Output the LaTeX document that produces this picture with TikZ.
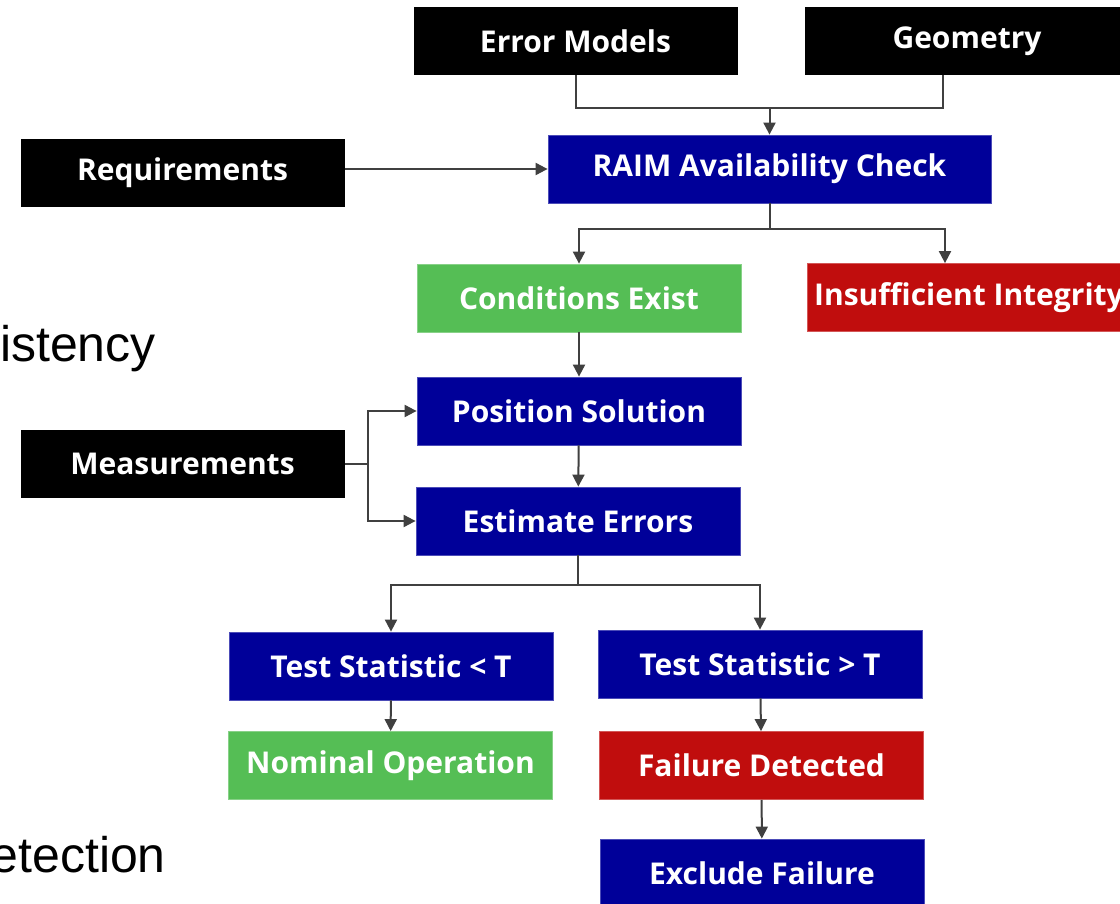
\documentclass[tikz,border=0pt]{standalone}
\usepackage{fontspec}
\setmainfont{Open Sans}
\setsansfont{Liberation Sans}
\usetikzlibrary{arrows.meta}
\definecolor{navy}{HTML}{000099}
\definecolor{okgreen}{HTML}{55BE55}
\definecolor{badred}{HTML}{C00D0D}
\definecolor{wirec}{HTML}{404040}
\begin{document}
\begin{tikzpicture}[x=1pt,y=-1pt,
 box/.style={minimum width=324pt,minimum height=68pt,inner sep=0pt,text=white,font=\bfseries\fontsize{30}{36}\selectfont},
 blackbox/.style={box,fill=black},
 bluebox/.style={box,fill=navy,draw=navy!70!white,line width=0.8pt},
 greenbox/.style={box,fill=okgreen,draw=okgreen!70!white,line width=0.8pt},
 redbox/.style={box,fill=badred,draw=badred!70!white,line width=0.8pt},
 wire/.style={draw=wirec,line width=2pt},
 arr/.style={wire,-{Triangle[length=12pt,width=12pt]}},
 big/.style={font=\sffamily\fontsize{50}{58}\selectfont,anchor=base east,inner sep=0pt}]
\useasboundingbox[fill=white] (0,0) rectangle (1120,904);
\node[blackbox] (em) at (575.5,41) {Error Models};
\node[blackbox] (geo) at (967,41) {Geometry};
\node[bluebox, minimum width=443pt] (raim) at (769.5,169) {RAIM Availability Check};
\node[blackbox] (req) at (182.5,173) {Requirements};
\node[greenbox] (cond) at (579,298) {Conditions Exist};
\node[redbox] (insuf) at (969,297.5) {Insufficient Integrity};
\node[bluebox] (pos) at (579,411) {Position Solution};
\node[blackbox] (meas) at (182.5,464) {Measurements};
\node[bluebox] (est) at (578,521) {Estimate Errors};
\node[bluebox] (tlt) at (391,666) {Test Statistic < T};
\node[bluebox] (tgt) at (760,664) {Test Statistic > T};
\node[greenbox] (nom) at (390.5,765.5) {Nominal Operation};
\node[redbox] (fail) at (761.5,765.5) {Failure Detected};
\node[bluebox] (excl) at (762,873) {Exclude Failure};
\node[big] (cons) at (156,361) {istency};
\node[big] (det) at (166,872) {etection};
\coordinate (j1) at (769.5,108);
\draw[wire] (em.south) |- (j1) -| ([xshift=-24pt]geo.south);
\draw[arr] (j1) -- (raim.north);
\draw[arr] (req.east |- raim.west) -- (raim.west);
\coordinate (j2) at (769.5,229);
\draw[wire] (raim.south) -- (j2);
\draw[arr] (j2) -| (cond.north);
\draw[arr] (j2) -| ([xshift=-24pt]insuf.north);
\draw[arr] (cond) -- (pos);
\coordinate (j3) at (368,464);
\draw[wire] (meas.east) -- (j3);
\draw[arr] (j3) |- (pos.west);
\draw[arr] (j3) |- (est.west);
\draw[arr] (pos) -- (est);
\coordinate (j4) at (578,585);
\draw[wire] (est.south) -- (j4);
\draw[arr] (j4) -| (tlt.north);
\draw[arr] (j4) -| (tgt.north);
\draw[arr] (tlt) -- (nom);
\draw[arr] (tgt) -- (fail);
\draw[arr] (fail) -- (excl);
\end{tikzpicture}
\end{document}
